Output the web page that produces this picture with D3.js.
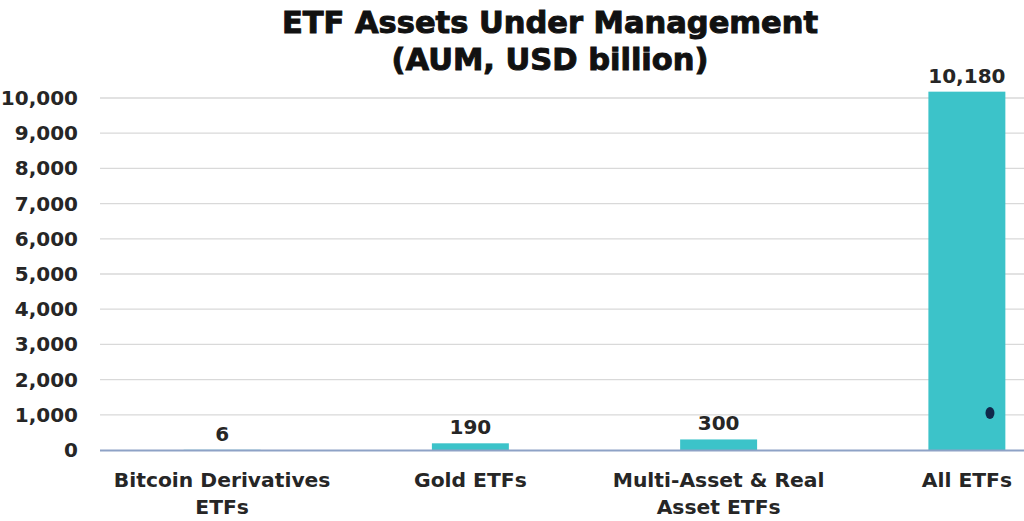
<!DOCTYPE html>
<html><head><meta charset="utf-8">
<script src="https://cdn.jsdelivr.net/npm/d3@7"></script>
<style>body{margin:0;background:#fff}svg{display:block}</style>
</head><body>
<svg id="c" width="1024" height="521"></svg>
<script>
const categories = [["Bitcoin Derivatives","ETFs"],["Gold ETFs"],["Multi-Asset & Real","Asset ETFs"],["All ETFs"]];
const catKeys = ["Bitcoin Derivatives ETFs","Gold ETFs","Multi-Asset & Real Asset ETFs","All ETFs"];
const values = [6,190,300,10180];
const valueLabels = ["6","190","300","10,180"];
const yTicks = [0,1000,2000,3000,4000,5000,6000,7000,8000,9000,10000];
const markerCategory = ["All ETFs"];
const markerValue = [1050];
const titleLines = ["ETF Assets Under Management","(AUM, USD billion)"];

const svg = d3.select("#c");
const font = "'DejaVu Sans', Verdana, sans-serif";
const y = d3.scaleLinear().domain([0,10000]).range([450,98]);
const x = d3.scaleBand().domain(catKeys).range([98,1091]).paddingInner(0.69).paddingOuter(0.345);

// gridlines
svg.append("g").selectAll("line").data(yTicks.filter(d=>d>0)).join("line")
  .attr("x1",100).attr("x2",1024).attr("y1",d=>y(d)).attr("y2",d=>y(d))
  .attr("stroke","#d9d9d9").attr("stroke-width",1.3);

// y axis
const yAxis = d3.axisLeft(y).tickValues(yTicks).tickFormat(d3.format(",")).tickSize(0).tickPadding(0);
const gy = svg.append("g").attr("transform","translate(78,0)").call(yAxis);
gy.select(".domain").remove();
gy.selectAll("text").attr("font-family",font).attr("font-weight","bold").attr("font-size",20).attr("fill","#262626");

// bars
svg.append("g").selectAll("rect").data(values).join("rect")
  .attr("x",(d,i)=>x(catKeys[i])).attr("width",x.bandwidth())
  .attr("y",d=>y(d)).attr("height",d=>y(0)-y(d)).attr("fill","#3cc3c9");

// baseline
svg.append("line").attr("x1",100).attr("x2",1024).attr("y1",y(0)+0.5).attr("y2",y(0)+0.5)
  .attr("stroke","#8ea2c6").attr("stroke-width",2);

// value labels
svg.append("g").selectAll("text").data(values).join("text")
  .attr("x",(d,i)=>x(catKeys[i])+x.bandwidth()/2).attr("y",d=>y(d)-9)
  .attr("text-anchor","middle").attr("font-family",font).attr("font-weight","bold")
  .attr("font-size",20).attr("fill","#262626").text((d,i)=>valueLabels[i]);

// marker dot
svg.append("g").selectAll("ellipse").data(markerValue).join("ellipse")
  .attr("cx",(d,i)=>x(markerCategory[i])+x.bandwidth()*0.8).attr("cy",d=>y(d))
  .attr("rx",4.5).attr("ry",6).attr("fill","#10284a");

// x labels
const xl = svg.append("g").selectAll("text").data(categories).join("text")
  .attr("x",(d,i)=>x(catKeys[i])+x.bandwidth()/2).attr("y",487)
  .attr("text-anchor","middle").attr("font-family",font).attr("font-weight","bold")
  .attr("font-size",20.3).attr("fill","#262626");
xl.selectAll("tspan").data(d=>d).join("tspan")
  .attr("x",function(){return this.parentNode.getAttribute("x");})
  .attr("dy",(d,i)=>i===0?0:27).text(d=>d);

// title
svg.append("g").selectAll("text").data(titleLines).join("text")
  .attr("x",550).attr("y",(d,i)=>33+i*37).attr("text-anchor","middle")
  .attr("font-family",font).attr("font-weight","900").attr("font-size",30.5)
  .attr("fill","#111").attr("stroke","#111").attr("stroke-width",1).text(d=>d);
</script>
</body></html>
